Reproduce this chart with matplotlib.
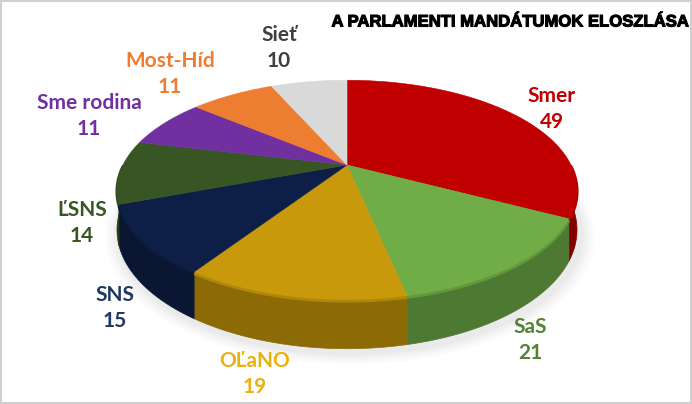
import numpy as np
import matplotlib
matplotlib.use("Agg")
import matplotlib.pyplot as plt
import matplotlib.patheffects as pe
from matplotlib.patches import Polygon, Rectangle
from matplotlib.colors import to_rgb

# ---- data ----
parties = ["Smer", "SaS", "OĽaNO", "SNS", "ĽSNS", "Sme rodina", "Most-Híd", "Sieť"]
seats = [49, 21, 19, 15, 14, 11, 11, 10]
slice_colors = ["#C00000", "#70AD47", "#C8990A", "#0E1F47", "#375623", "#7030A0", "#ED7D31", "#D9D9D9"]
label_colors = ["#C00000", "#548235", "#E8B10E", "#1F3864", "#375623", "#7030A0", "#ED7D31", "#404040"]
title = "A PARLAMENTI MANDÁTUMOK ELOSZLÁSA"

# ---- layout (pixel-like coordinates) ----
W, H = 692, 404
CX, CY = 347, 165          # pie centre on screen
A, B = 224, 104            # horizontal / vertical radii before perspective
K = 0.227                  # perspective strength
DEPTH = 38                 # side height
label_pos = [(552, 109), (530, 340), (255, 374), (115, 308), (82, 223),
             (89, 116), (170, 74), (279, 48)]

fig = plt.figure(figsize=(W / 100, H / 100), dpi=100)
ax = fig.add_axes([0, 0, 1, 1])
ax.set_xlim(0, W)
ax.set_ylim(H, 0)
ax.axis("off")


def proj(r, t):
    t = np.radians(t)
    u, v = r * np.cos(t), r * np.sin(t)
    w = 1 + K * v
    return CX + A * u / w, CY - B * v / w, w


def shade(c, f):
    r, g, b = to_rgb(c)
    return (min(r * f, 1), min(g * f, 1), min(b * f, 1))


total = float(sum(seats))
bounds = 90 - 360 * np.concatenate([[0], np.cumsum(seats)]) / total

# soft shadow under the pie
for s, a in [(1.06, 0.025), (1.045, 0.03), (1.03, 0.035), (1.015, 0.04)]:
    tt = np.linspace(0, -360, 200)
    x, y, w = proj(s, tt)
    ax.add_patch(Polygon(np.column_stack([x + 3, y + DEPTH / w + 4]), closed=True,
                         facecolor="#606060", alpha=a, edgecolor="none", zorder=1))

# sides (visible front half only)
for i in range(len(seats)):
    a1, a2 = sorted([bounds[i], bounds[i + 1]])
    for off in (0, -360, 360):
        lo, hi = max(a1 + off, -180), min(a2 + off, 0)
        if hi <= lo:
            continue
        tt = np.linspace(lo, hi, 80)
        x, y, w = proj(1, tt)
        top = np.column_stack([x, y])
        bot = np.column_stack([x, y + DEPTH / w])[::-1]
        col = shade(slice_colors[i], 0.70)
        ax.add_patch(Polygon(np.vstack([top, bot]), closed=True, facecolor=col,
                             edgecolor=col, linewidth=0.5, zorder=2))
        # light bevel along the top rim of the side
        ax.plot(x, y + 1.5, color=shade(slice_colors[i], 0.88), linewidth=2.2,
                solid_capstyle="butt", zorder=2.5)

# top faces
for i in range(len(seats)):
    tt = np.linspace(bounds[i], bounds[i + 1], 80)
    x, y, _ = proj(1, tt)
    pts = np.vstack([[CX, CY], np.column_stack([x, y])])
    ax.add_patch(Polygon(pts, closed=True, facecolor=slice_colors[i],
                         edgecolor=slice_colors[i], linewidth=0.4, zorder=3))

# labels
for name, val, col, (lx, ly) in zip(parties, seats, label_colors, label_pos):
    ax.text(lx, ly, f"{name}\n{val}", ha="center", va="center", color=col,
            fontsize=15, fontweight="bold", family=["Lato", "DejaVu Sans"],
            linespacing=1.35, zorder=5)

ax.text(688, 22, title, ha="right", va="center", fontsize=12, fontweight="bold",
        family=["Liberation Sans", "DejaVu Sans"], color="black", zorder=5,
        path_effects=[pe.withStroke(linewidth=0.8, foreground="black")])

# frame border
ax.add_patch(Rectangle((1, 1), W - 2, H - 2, fill=False, edgecolor="#D0D0D0", linewidth=1.5, zorder=6))

fig.savefig("out.png", dpi=100)
